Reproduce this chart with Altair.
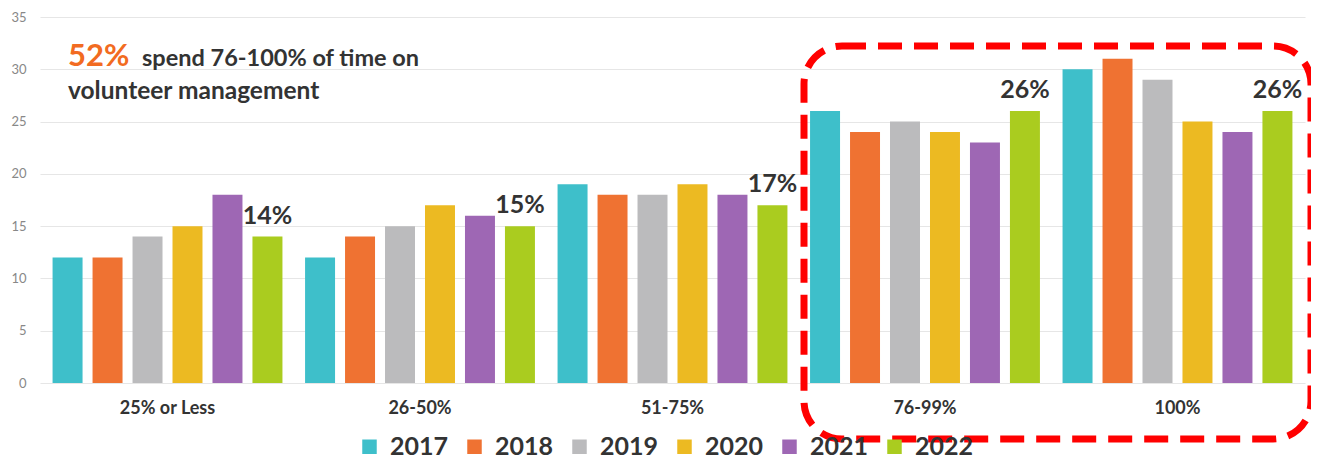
import altair as alt
import pandas as pd

categories = ["25% or Less", "26-50%", "51-75%", "76-99%", "100%"]
years = ["2017", "2018", "2019", "2020", "2021", "2022"]
v2017 = [12, 12, 19, 26, 30]
v2018 = [12, 14, 18, 24, 31]
v2019 = [14, 15, 18, 25, 29]
v2020 = [15, 17, 19, 24, 25]
v2021 = [18, 16, 18, 23, 24]
v2022 = [14, 15, 17, 26, 26]
label_texts = ["14%", "15%", "17%", "26%", "26%"]
colors = ["#3EBFCA", "#EF7232", "#BBBBBD", "#ECBA22", "#9E67B4", "#AACC1F"]
y_ticks = [0, 5, 10, 15, 20, 25, 30, 35]

series = [v2017, v2018, v2019, v2020, v2021, v2022]
rows = []
for yi, yr in enumerate(years):
    for ci, cat in enumerate(categories):
        rows.append({"category": cat, "year": yr, "value": series[yi][ci]})
df = pd.DataFrame(rows)

df_lab = pd.DataFrame({"category": categories, "year": ["2022"] * 5,
                       "value": v2022, "label": label_texts})

FONT = "Lato"

x_enc = alt.X("category:N", sort=categories,
              scale=alt.Scale(paddingInner=0.05, paddingOuter=0.03),
              axis=alt.Axis(title=None, labelAngle=0, labelFontSize=18, labelFontWeight="bold",
                            labelColor="#333333", labelPadding=16, ticks=False, domain=False,
                            labelFont=FONT, grid=False))
xo_enc = alt.XOffset("year:N", sort=years,
                     scale=alt.Scale(domain=years, paddingInner=0.25, paddingOuter=0.125))
y_enc = alt.Y("value:Q", scale=alt.Scale(domain=[0, 35], nice=False),
              axis=alt.Axis(title=None, values=y_ticks, ticks=False, domain=False,
                            labelFontSize=13, labelColor="#888888", labelPadding=14,
                            labelFont=FONT, gridColor="#E6E6E6", gridWidth=1.2))

bars = alt.Chart(df).mark_bar().encode(
    x=x_enc,
    xOffset=xo_enc,
    y=y_enc,
    color=alt.Color("year:N", sort=years,
                    scale=alt.Scale(domain=years, range=colors),
                    legend=alt.Legend(title=None, orient="none", legendX=317, legendY=417,
                                      direction="horizontal", symbolType="square",
                                      symbolSize=210, symbolStrokeWidth=0,
                                      labelFontSize=25, labelFontWeight="bold",
                                      labelColor="#333333", labelFont=FONT,
                                      columnPadding=13, labelOffset=8, padding=0)),
)

labels = alt.Chart(df_lab).mark_text(
    fontSize=25, fontWeight="bold", color="#333333", font=FONT,
    baseline="bottom", dy=-8
).encode(
    x=alt.X("category:N", sort=categories),
    xOffset=alt.XOffset("year:N", sort=years),
    y=alt.Y("value:Q"),
    text="label:N",
)

one = pd.DataFrame({"a": [0]})
ann1 = alt.Chart(one).mark_text(
    text="52%", fontSize=31, fontWeight="bold", color="#F26B21", font=FONT,
    align="left", baseline="middle"
).encode(x=alt.value(28), y=alt.value(40))
ann2 = alt.Chart(one).mark_text(
    text="spend 76-100% of time on", fontSize=23.5, fontWeight="bold", color="#333333",
    font=FONT, align="left", baseline="middle"
).encode(x=alt.value(102), y=alt.value(42))
ann3 = alt.Chart(one).mark_text(
    text="volunteer management", fontSize=24.5, fontWeight="bold", color="#333333",
    font=FONT, align="left", baseline="middle"
).encode(x=alt.value(28), y=alt.value(75))

box = alt.Chart(one).mark_rect(
    fill=None, stroke="#FF0000", strokeWidth=7, strokeDash=[24, 12], cornerRadius=38
).encode(x=alt.value(764), x2=alt.value(1271), y=alt.value(29), y2=alt.value(422))

chart = alt.layer(bars, labels, ann1, ann2, ann3, box).properties(
    width=1265, height=366,
    autosize=alt.AutoSizeParams(type="none"),
    padding={"left": 32, "top": 9, "right": 6, "bottom": 78},
).configure_view(stroke=None)

chart.save("out.html", embed_options={"renderer": "svg", "actions": False})
